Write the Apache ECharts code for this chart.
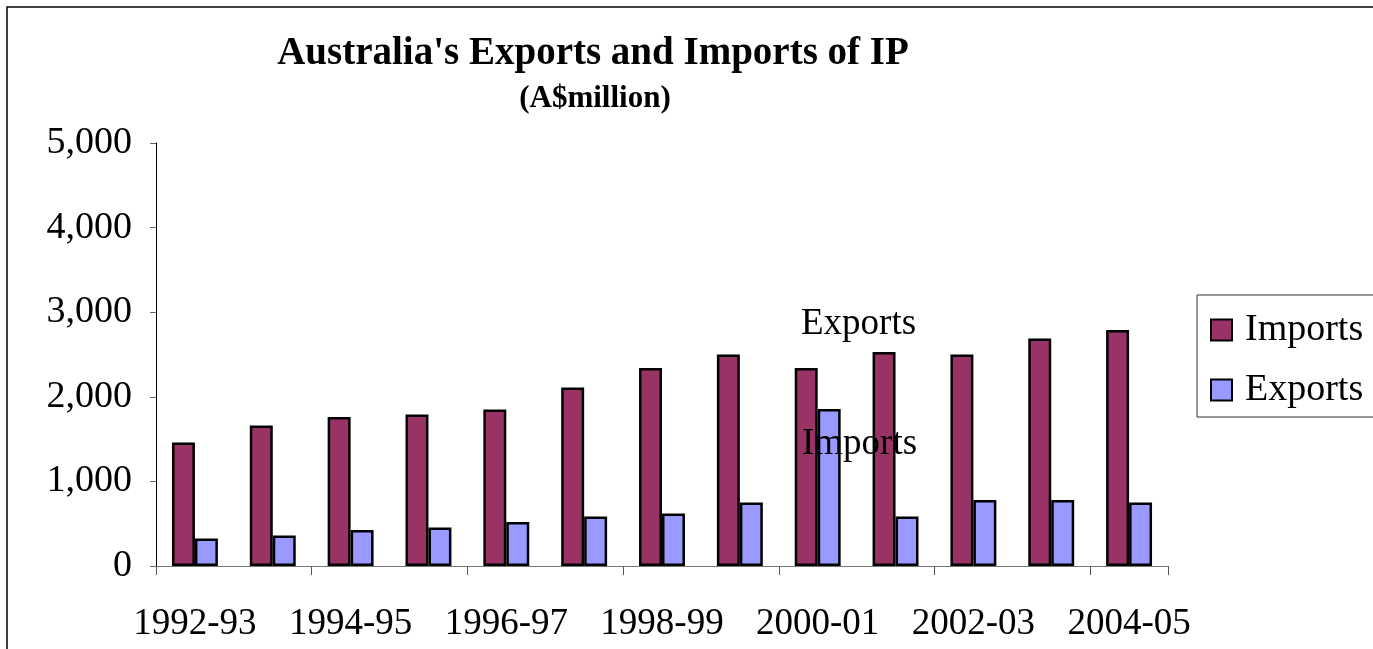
<!DOCTYPE html>
<html><head><meta charset="utf-8">
<script src="https://cdn.jsdelivr.net/npm/echarts@6/dist/echarts.min.js"></script>
<style>html,body{margin:0;padding:0;background:#fff}#c{width:1373px;height:649px}</style>
</head><body><div id="c"></div>
<script>
const categories = ['1992-93','1993-94','1994-95','1995-96','1996-97','1997-98','1998-99','1999-00','2000-01','2001-02','2002-03','2003-04','2004-05'];
const imports = [1460,1660,1760,1790,1850,2110,2340,2500,2340,2530,2500,2690,2790];
const exports = [325,360,425,455,520,585,620,750,1855,585,780,780,750];
const yTicks = [0,1000,2000,3000,4000,5000];

const F = '"Liberation Serif","Times New Roman",serif';
const chart = echarts.init(document.getElementById('c'));
chart.setOption({
  animation:false,
  backgroundColor:'#fff',
  title:[
    {text:"Australia's Exports and Imports of IP",left:588,top:29,textAlign:'center',
     textStyle:{fontFamily:F,fontWeight:'bold',fontSize:39,color:'#000'}},
    {text:'(A$million)',left:590,top:78,textAlign:'center',
     textStyle:{fontFamily:F,fontWeight:'bold',fontSize:31,color:'#000'}}
  ],
  graphic:[
    {type:'rect',shape:{x:7,y:7,width:1400,height:700},style:{fill:'none',stroke:'#000',lineWidth:1.5},silent:true},
    {type:'text',left:801,top:306,style:{text:'Exports',font:'37px '+F,fill:'#000'},z:100},
    {type:'text',left:802,top:426,style:{text:'Imports',font:'37px '+F,fill:'#000'},z:100}
  ],
  legend:{
    orient:'vertical',left:1197,top:295,
    padding:[16,16,8,13],
    itemWidth:21,itemHeight:21,itemGap:22,
    borderColor:'#333',borderWidth:1,
    icon:'rect',
    textStyle:{fontFamily:F,fontSize:38,color:'#000',padding:[0,0,0,8]},
    data:['Imports','Exports']
  },
  grid:{left:156,right:205,top:143,bottom:83,containLabel:false},
  xAxis:{
    type:'category',data:categories,
    axisLine:{lineStyle:{color:'#777',width:1}},
    axisTick:{show:true,length:9,lineStyle:{color:'#555'}},
    axisLabel:{interval:1,margin:40,fontFamily:F,fontSize:37,color:'#000'}
  },
  yAxis:{
    type:'value',min:yTicks[0],max:yTicks[yTicks.length-1],interval:1000,
    axisLine:{show:true,lineStyle:{color:'#000',width:1}},
    axisTick:{show:true,length:6,lineStyle:{color:'#666'}},
    splitLine:{show:false},
    axisLabel:{margin:24,fontFamily:F,fontSize:38,color:'#000',
      formatter:v=>v.toLocaleString('en-US')}
  },
  series:[
    {name:'Imports',type:'bar',data:imports,barGap:'0%',barCategoryGap:'41%',
     itemStyle:{color:'#993366',borderColor:'#000',borderWidth:2.5}},
    {name:'Exports',type:'bar',data:exports,
     itemStyle:{color:'#9999FF',borderColor:'#000',borderWidth:2.5}}
  ]
});
</script></body></html>
